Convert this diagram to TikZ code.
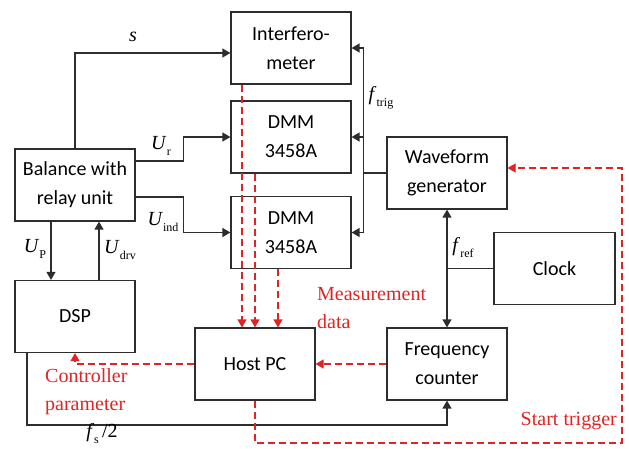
\documentclass[tikz,border=0pt]{standalone}
\usepackage{fontspec}
\setmainfont{Liberation Serif}
\newfontfamily\boxfont{Carlito}
\usetikzlibrary{arrows.meta}
\definecolor{myred}{RGB}{225,35,35}
\definecolor{ink}{RGB}{45,45,45}
\tikzset{
  blk/.style={draw=ink, line width=1.2pt, minimum width=120pt, minimum height=72pt,
    inner sep=0pt, align=center, font=\boxfont\fontsize{20}{29}\selectfont},
  wire/.style={draw=ink, line width=1.3pt},
  arr/.style={wire, -{Triangle[length=8pt,width=9pt]}},
  rwire/.style={draw=myred, line width=1.2pt, dash pattern=on 7pt off 4pt},
  rarr/.style={rwire, -{Triangle[length=8pt,width=9pt]}},
  lbl/.style={font=\fontsize{20}{20}\selectfont, inner sep=0pt},
  rlbl/.style={text=myred, font=\fontsize{20}{28}\selectfont, inner sep=0pt, align=left},
}
\newcommand{\sig}[2]{\textit{#1}\raisebox{-6pt}{\fontsize{12}{12}\selectfont #2}}
\begin{document}
\begin{tikzpicture}[x=1pt,y=-1pt]
\useasboundingbox (0,0) rectangle (629,448);
% boxes
\node[blk] (int) at (291,48) {Interfero-\\meter};
\node[blk] (dmm1) at (291,137) {DMM\\3458A};
\node[blk] (dmm2) at (291,232.5) {DMM\\3458A};
\node[blk] (bal) at (75,185) {Balance with\\relay unit};
\node[blk] (dsp) at (75,316.5) {DSP};
\node[blk] (hpc) at (255,364) {Host PC};
\node[blk] (wg) at (447,173) {Waveform\\generator};
\node[blk, minimum width=121pt] (clk) at (554.5,268.5) {Clock};
\node[blk] (fc) at (447,364) {Frequency\\counter};
% black connectors
\draw[arr] (bal.north) |- ([yshift=-5pt]int.west);
\draw[arr] ([yshift=24pt]bal.east) -- ++(48,0) |- (dmm1.west);
\draw[arr] ([yshift=-12pt]bal.east) -- ++(48,0) |- (dmm2.west);
\draw[arr] ([xshift=-24pt]bal.south) -- ([xshift=-24pt]dsp.north);
\draw[arr] ([xshift=24pt]dsp.north) -- ([xshift=24pt]bal.south);
\coordinate (bt) at ([xshift=12pt]int.east);
\coordinate (bb) at ([xshift=12pt]dmm2.east);
\draw[wire] (bt) -- (bb);
\draw[arr] (bt) -- (int.east);
\draw[arr] ([xshift=12pt]dmm1.east) -- (dmm1.east);
\draw[arr] (bb) -- (dmm2.east);
\draw[wire] (wg.west) -- (wg.west -| bt);
\coordinate (j) at (wg.south |- clk.west);
\draw[wire] (clk.west) -- (j);
\draw[arr] (j) -- (wg.south);
\draw[arr] (j) -- (fc.north);
\draw[arr] ([xshift=-48pt]dsp.south) -- ++(0,72) -| (fc.south);
% red connectors
\draw[rarr] ([xshift=-49pt]int.south) -- ([xshift=-13pt]hpc.north);
\draw[rarr] ([xshift=-36pt]dmm1.south) -- (hpc.north);
\draw[rarr] ([xshift=-13pt]dmm2.south) -- ([xshift=23pt]hpc.north);
\draw[rarr] (hpc.west) -| (dsp.south);
\draw[rarr] (fc.west) -- (hpc.east);
\coordinate (st) at (622,443);
\draw[rarr] (hpc.south) |- (st) |- ([yshift=5pt]wg.east);
% labels
\node[lbl] at (133,37) {\textit{s}};
\node[lbl] at (161,146) {\sig{U}{r}};
\node[lbl] at (163,222) {\sig{U}{ind}};
\node[lbl] at (35,249) {\sig{U}{P}};
\node[lbl] at (120,250) {\sig{U}{drv}};
\node[lbl] at (381,98) {\sig{f}{trig}};
\node[lbl] at (463,248) {\sig{f}{ref}};
\node[lbl] at (102,434) {\sig{f}{s}\,/2};
\node[rlbl, anchor=north west] at (317,287) {Measurement\\data};
\node[rlbl, anchor=north west] at (45,368) {Controller\\parameter};
\node[rlbl, anchor=north east] at (617,412) {Start trigger};
\end{tikzpicture}
\end{document}
